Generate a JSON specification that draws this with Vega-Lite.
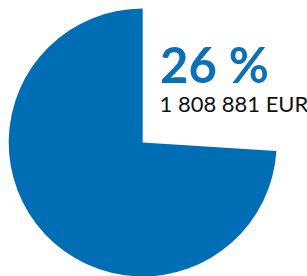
{
  "$schema": "https://vega.github.io/schema/vega-lite/v6.json",
  "autosize": {"type": "none"},
  "padding": {"left": 8.7, "top": 8.5, "right": 31, "bottom": 0},
  "width": 268,
  "height": 268,
  "background": "white",
  "data": {"values": [
    {"category": "Share", "percent": 26, "label": "26 %", "amount": "1 808 881 EUR"},
    {"category": "Rest", "percent": 74, "label": "", "amount": ""}
  ]},
  "encoding": {
    "theta": {"field": "percent", "type": "quantitative", "stack": true},
    "order": {"field": "percent", "type": "quantitative", "sort": "ascending"}
  },
  "layer": [
    {
      "mark": {"type": "arc", "outerRadius": 134, "stroke": null},
      "encoding": {
        "color": {"field": "category", "type": "nominal", "scale": {"domain": ["Share", "Rest"], "range": ["#ffffff", "#006EB5"]}, "legend": null}
      }
    },
    {
      "mark": {"type": "text", "radius": 80, "align": "left", "baseline": "alphabetic", "dx": -41, "dy": -4.4, "font": "Lato", "fontWeight": "bold", "fontSize": 49, "color": "#0A70B8"},
      "encoding": {"text": {"field": "label"}}
    },
    {
      "mark": {"type": "text", "radius": 80, "align": "left", "baseline": "alphabetic", "dx": -41.5, "dy": 24.6, "font": "Lato", "fontWeight": "normal", "fontSize": 22, "color": "#111111"},
      "encoding": {"text": {"field": "amount"}}
    }
  ],
  "config": {"view": {"stroke": null}}
}
